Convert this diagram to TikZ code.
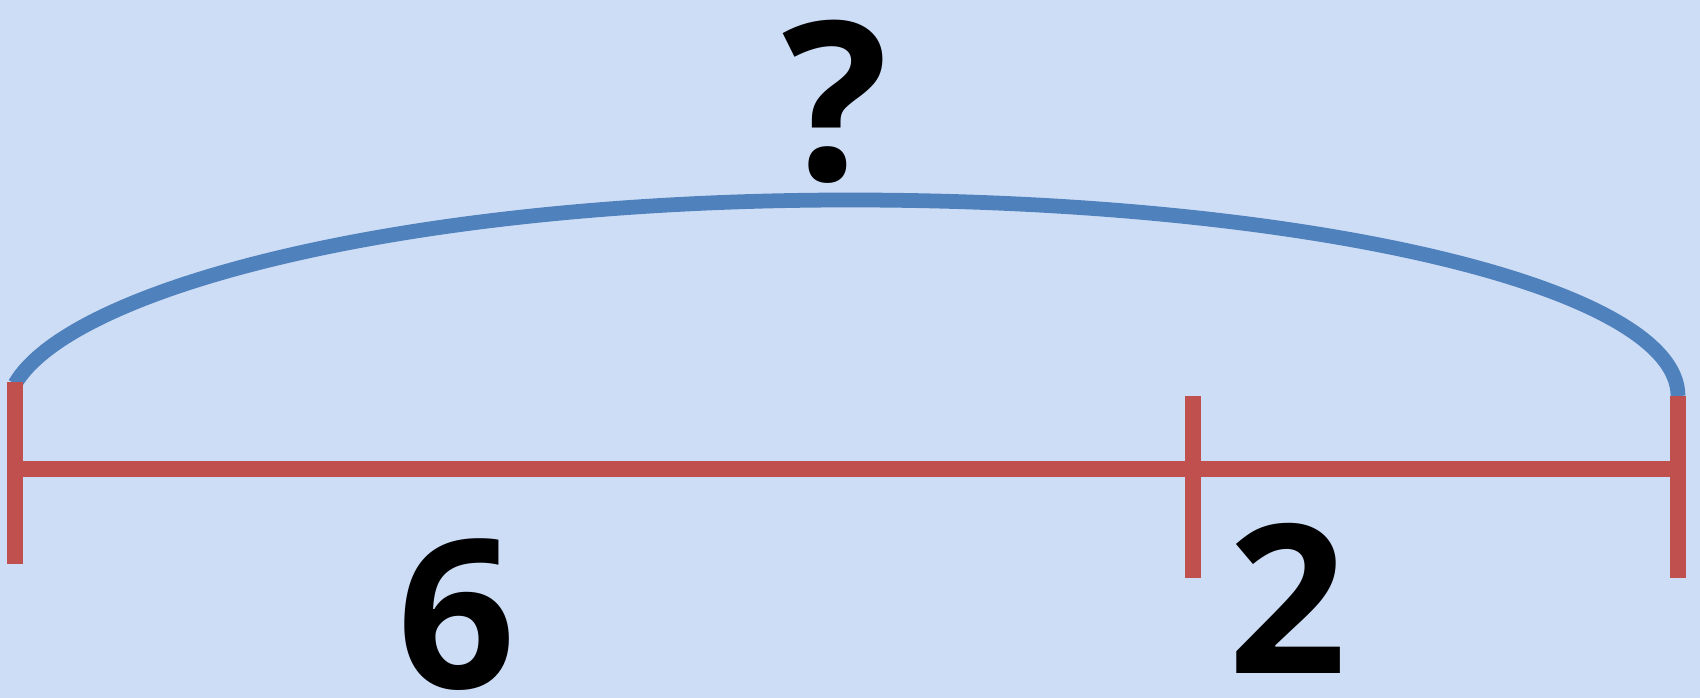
\documentclass[tikz,border=0pt]{standalone}
\usepackage{fontspec}
\setmainfont{Open Sans}
\usepackage{tikz}
\usetikzlibrary{calc}
\definecolor{barRed}{HTML}{C0504D}
\definecolor{arcBlue}{HTML}{4F81BD}
\definecolor{paperBg}{HTML}{CEDDF6}

\begin{document}
\begin{tikzpicture}[x=0.01cm, y=-0.01cm,
    seg/.style={draw=barRed, line width=4.5pt},
    arcline/.style={draw=arcBlue, line width=4.2pt},
    num/.style={font=\fontsize{59}{59}\selectfont\bfseries, inner sep=0pt, anchor=base}]
        % Fondo
        \fill[paperBg] (0,0) rectangle (1700,698);
        \useasboundingbox (0,0) rectangle (1700,698);
        % Marcas: nombre/x/arriba
        \foreach \nm/\px/\py in {L/15/382, M/1193/396, R/1678/396} {
          \coordinate (top\nm) at (\px,\py);
          \coordinate (bot\nm) at (\px,\py+182);
          \coordinate (mid\nm) at (\px,469);
        }
        \coordinate (peak) at (850,200);
        % Arco (total)
        \draw[arcline] ($(topL)+(0,2)$) .. controls +(55,-95) and +(-450,0) .. (peak)
          .. controls +(458,0) and +(0,-109) .. (topR);
        % Barra
        \foreach \nm in {L, M, R} {
          \draw[seg] (top\nm) -- (bot\nm);
        }
        \draw[seg] (midL) -- (midR);
        % Etiquetas
        \node[num] (six) at (457,689) {6};
        \node[num] (two) at (1288,674) {2};
        \node[num, font=\fontsize{63}{63}\selectfont\bfseries] (ask) at (835,181) {?};
      \end{tikzpicture}
\end{document}
